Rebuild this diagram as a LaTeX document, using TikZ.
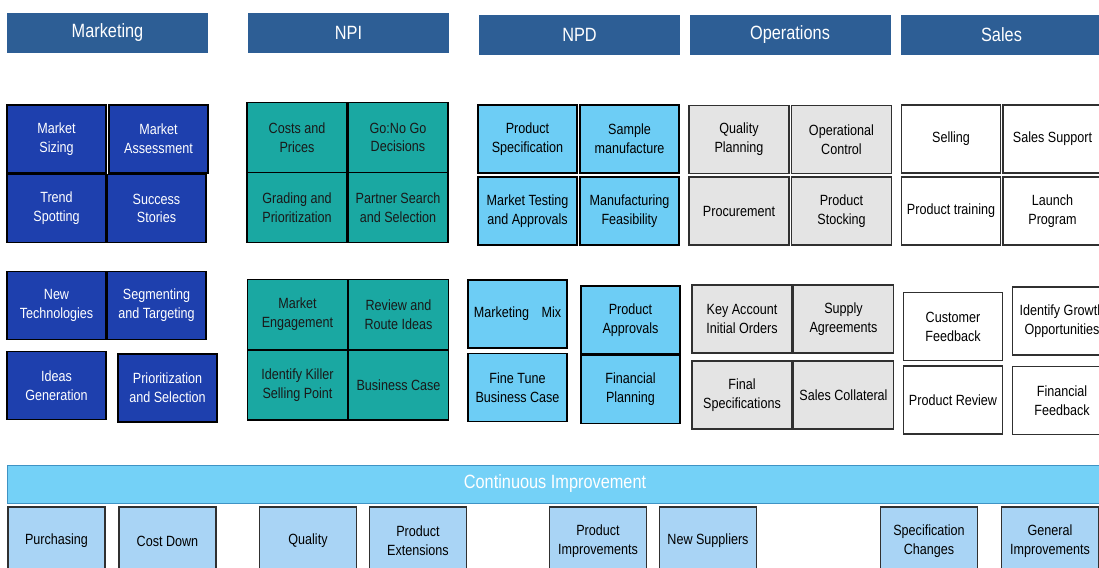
\documentclass[tikz,border=0pt]{standalone}
\usepackage{fontspec}
\usepackage{tikz}
\usetikzlibrary{positioning}
\newfontfamily\diagfont{Liberation Sans}[FakeStretch=0.85]
\definecolor{chead}{HTML}{2D5E95}
\definecolor{cmkt}{HTML}{1E40AE}
\definecolor{cnpi}{HTML}{1AA8A2}
\definecolor{cnpd}{HTML}{6DCDF5}
\definecolor{cops}{HTML}{E4E4E4}
\definecolor{cbar}{HTML}{74D1F7}
\definecolor{cbarline}{HTML}{3F93C4}
\definecolor{cimp}{HTML}{A9D4F5}
\definecolor{cgray}{HTML}{303030}
\newcommand{\cellfont}{\diagfont\fontsize{7.4}{9.4}\selectfont}
\newcommand{\headfont}{\diagfont\fontsize{9.6}{11}\selectfont}
\tikzset{
  cell/.style ={draw=black,line width=0.8pt,minimum width=49.5pt,minimum height=34pt,
                inner sep=1pt,align=center,font=\cellfont},
  head/.style ={fill=chead,text=white,minimum width=100.5pt,minimum height=20pt,
                inner sep=0pt,font=\headfont},
  mkt/.style  ={cell,fill=cmkt,text=white},
  npi/.style  ={cell,fill=cnpi,text=black!90},
  npd/.style  ={cell,fill=cnpd},
  ops/.style  ={cell,fill=cops,draw=cgray},
  sls/.style  ={cell,fill=white,draw=cgray},
  imp/.style  ={cell,fill=cimp,draw=cgray},
  bar/.style  ={fill=cbar,draw=cbarline,line width=0.5pt,text=white,
                minimum width=548pt,minimum height=19pt,font=\headfont},
}

\begin{document}
\begin{tikzpicture}[x=0.5pt,y=-0.5pt]
 \useasboundingbox[fill=white] (0,0) rectangle (1099,568);
 % column headers
 \node[head] (hmkt) at (107.5,32.5) {Marketing};
 \node[head] (hnpi) at (348.5,32.5) {NPI};
 \node[head] (hnpd) at (579.5,35) {NPD};
 \node[head] (hops) at (790,34.5) {Operations};
 \node[head] (hsls) at (1001.5,34.5) {Sales};
 % marketing
 \foreach \n/\x/\y/\t in {msz/56.5/139/{Market\\Sizing},mas/158.5/139/{Market\\Assessment},
                          tsp/56.5/208.5/{Trend\\Spotting},sst/156.5/208.5/{Success\\Stories},
                          ntc/56.5/305.5/{New\\Technologies},sgt/156.5/305.5/{Segmenting\\and Targeting},
                          igen/56.5/385.5/{Ideas\\Generation},pzs/167.5/388/{Prioritization\\and Selection}}
   {\node[mkt] (\n) at (\x,\y) {\t};}
 % npi
 \foreach \n/\x/\y/\t in {cap/297/137.5/{Costs and\\Prices},gng/398/137.5/{Go:No Go\\Decisions},
                          gpr/297/207.5/{Grading and\\Prioritization},pss/398/207.5/{Partner Search\\and Selection},
                          men/297.5/314.5/{Market\\Engagement},rri/398.5/314.5/{Review and\\Route Ideas},
                          iks/297.5/385/{Identify Killer\\Selling Point},bca/398.5/385/{Business Case}}
   {\node[npi,minimum width=50pt,minimum height=35pt] (\n) at (\x,\y) {\t};}
 % npd
 \foreach \n/\x/\y/\t in {psp/527.5/139/{Product\\Specification},smf/629.5/139/{Sample\\manufacture},
                          mta/527.5/211/{Market Testing\\and Approvals},mfe/629.5/211/{Manufacturing\\Feasibility},
                          mmx/517.5/314/{Marketing\hspace{4.5pt} Mix},ftb/517.5/387.5/{Fine Tune\\Business Case},
                          pap/630.5/320/{Product\\Approvals},fpl/630.5/389.5/{Financial\\Planning}}
   {\node[npd] (\n) at (\x,\y) {\t};}
 % operations
 \foreach \n/\x/\y/\t in {qpl/739/139.5/{Quality\\Planning},opc/841.5/139.5/{Operational\\Control},
                          prc/739/211/{Procurement},pst/841.5/211/{Product\\Stocking},
                          kao/742/319/{Key Account\\Initial Orders},sag/843.5/319/{Supply\\Agreements},
                          fsp/742/395/{Final\\Specifications},scl/843.5/395/{Sales Collateral}}
   {\node[ops,minimum width=50pt] (\n) at (\x,\y) {\t};}
 % sales
 \foreach \n/\x/\y/\t in {sel/951/139/{Selling},ssp/1052.5/139/{Sales Support},
                          ptr/951/211/{Product training},lpr/1052.5/211/{Launch\\Program},
                          cfb/953/326.5/{Customer\\Feedback},igo/1062/321/{Identify Growth\\Opportunities},
                          prv/953/400/{Product Review},ffb/1062/400.5/{Financial\\Feedback}}
   {\node[sls] (\n) at (\x,\y) {\t};}
 % continuous improvement
 \node[bar] (ci) at (555,484) {Continuous Improvement};
 \foreach \n/\x/\t in {pur/56.5/{Purchasing},cdn/167.5/{Cost Down},qua/308/{Quality},
                       pex/418/{Product\\Extensions},pim/598/{Product\\Improvements},
                       nsu/708/{New Suppliers},sch/929/{Specification\\Changes},
                       gim/1050/{General\\Improvements}}
   {\node[imp,minimum width=48.5pt] (\n) at (\x,541) {\t};}
\end{tikzpicture}
\end{document}
